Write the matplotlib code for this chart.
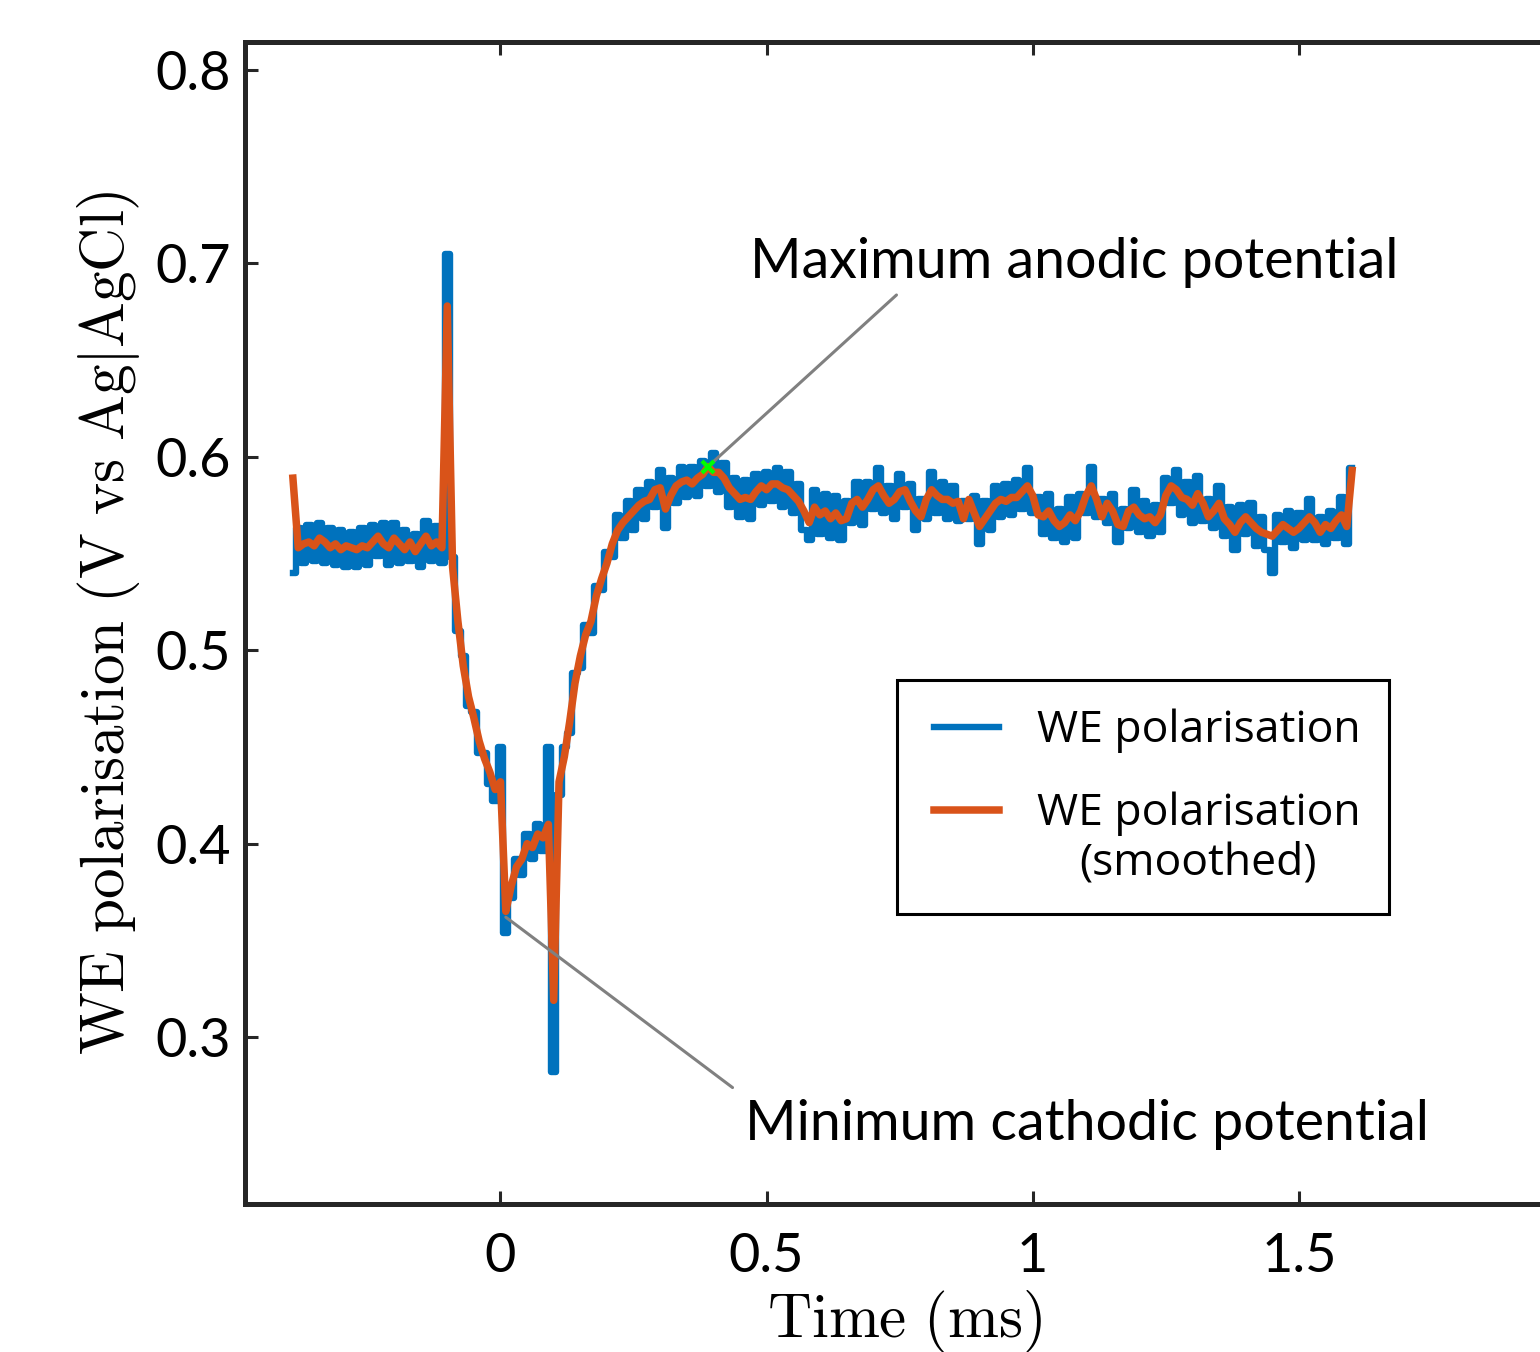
import numpy as np
import matplotlib
matplotlib.use("Agg")
import matplotlib.pyplot as plt
from matplotlib.legend_handler import HandlerLine2D

# sample times (ms), one sample every 0.01 ms
time_ms = np.round(np.linspace(-0.39, 1.60, 200), 2)

# raw WE polarisation (V)
we_raw = [
    0.540, 0.563, 0.545, 0.565, 0.546, 0.566, 0.545, 0.563, 0.544, 0.562,
    0.543, 0.561, 0.543, 0.563, 0.544, 0.565, 0.549, 0.566, 0.544, 0.566,
    0.545, 0.562, 0.546, 0.560, 0.543, 0.567, 0.546, 0.564, 0.545, 0.705,
    0.548, 0.510, 0.497, 0.471, 0.468, 0.447, 0.447, 0.431, 0.422, 0.450,
    0.354, 0.372, 0.392, 0.384, 0.405, 0.392, 0.410, 0.396, 0.450, 0.282,
    0.425, 0.450, 0.457, 0.488, 0.491, 0.513, 0.509, 0.533, 0.531, 0.551,
    0.548, 0.570, 0.558, 0.577, 0.562, 0.583, 0.568, 0.587, 0.574, 0.593,
    0.563, 0.589, 0.576, 0.595, 0.579, 0.595, 0.580, 0.598, 0.585, 0.602,
    0.582, 0.597, 0.574, 0.589, 0.569, 0.588, 0.568, 0.591, 0.575, 0.592,
    0.577, 0.594, 0.574, 0.592, 0.571, 0.586, 0.562, 0.557, 0.583, 0.560,
    0.581, 0.558, 0.580, 0.557, 0.577, 0.566, 0.587, 0.565, 0.587, 0.573,
    0.594, 0.571, 0.585, 0.568, 0.591, 0.574, 0.586, 0.562, 0.578, 0.568,
    0.592, 0.571, 0.587, 0.568, 0.585, 0.567, 0.577, 0.568, 0.580, 0.555,
    0.577, 0.562, 0.585, 0.569, 0.586, 0.570, 0.588, 0.573, 0.594, 0.571,
    0.579, 0.560, 0.581, 0.558, 0.573, 0.556, 0.579, 0.558, 0.581, 0.571,
    0.595, 0.569, 0.578, 0.566, 0.581, 0.556, 0.573, 0.563, 0.583, 0.561,
    0.577, 0.559, 0.575, 0.561, 0.589, 0.576, 0.593, 0.570, 0.587, 0.566,
    0.590, 0.567, 0.578, 0.563, 0.585, 0.559, 0.574, 0.552, 0.575, 0.560,
    0.576, 0.554, 0.569, 0.552, 0.540, 0.570, 0.556, 0.572, 0.553, 0.571,
    0.557, 0.578, 0.557, 0.569, 0.555, 0.572, 0.558, 0.579, 0.555, 0.594,
]

# smoothed WE polarisation (V)
we_smooth = [
    0.589, 0.553, 0.555, 0.556, 0.554, 0.558, 0.556, 0.553, 0.555, 0.552,
    0.554, 0.553, 0.552, 0.554, 0.553, 0.556, 0.559, 0.555, 0.553, 0.558,
    0.555, 0.552, 0.556, 0.551, 0.555, 0.559, 0.554, 0.556, 0.553, 0.678,
    0.543, 0.515, 0.492, 0.476, 0.465, 0.453, 0.444, 0.437, 0.428, 0.432,
    0.365, 0.378, 0.388, 0.392, 0.400, 0.398, 0.405, 0.403, 0.410, 0.319,
    0.432, 0.445, 0.463, 0.483, 0.497, 0.508, 0.515, 0.528, 0.537, 0.545,
    0.555, 0.562, 0.566, 0.569, 0.572, 0.575, 0.577, 0.578, 0.583, 0.584,
    0.573, 0.580, 0.585, 0.587, 0.588, 0.586, 0.589, 0.591, 0.595, 0.592,
    0.592, 0.589, 0.584, 0.581, 0.578, 0.579, 0.578, 0.582, 0.585, 0.583,
    0.586, 0.586, 0.584, 0.583, 0.580, 0.577, 0.572, 0.566, 0.574, 0.570,
    0.572, 0.568, 0.571, 0.567, 0.568, 0.576, 0.578, 0.574, 0.578, 0.583,
    0.585, 0.580, 0.576, 0.578, 0.582, 0.583, 0.577, 0.572, 0.569, 0.578,
    0.583, 0.580, 0.578, 0.578, 0.576, 0.577, 0.568, 0.578, 0.571, 0.564,
    0.568, 0.572, 0.576, 0.578, 0.577, 0.579, 0.579, 0.582, 0.585, 0.580,
    0.570, 0.569, 0.572, 0.567, 0.564, 0.566, 0.570, 0.567, 0.572, 0.580,
    0.585, 0.578, 0.569, 0.576, 0.572, 0.565, 0.564, 0.572, 0.574, 0.570,
    0.568, 0.569, 0.566, 0.570, 0.580, 0.585, 0.583, 0.579, 0.578, 0.575,
    0.581, 0.576, 0.569, 0.572, 0.576, 0.568, 0.565, 0.561, 0.566, 0.569,
    0.566, 0.563, 0.561, 0.560, 0.559, 0.562, 0.565, 0.563, 0.561, 0.563,
    0.566, 0.569, 0.566, 0.561, 0.565, 0.563, 0.567, 0.570, 0.564, 0.593,
]

x_ticks = [0, 0.5, 1, 1.5]
x_ticklabels = ["0", "0.5", "1", "1.5"]
y_ticks = [0.3, 0.4, 0.5, 0.6, 0.7, 0.8]

blue = "#0072BD"
orange = "#D95319"
dark = "#262626"

plt.rcParams["mathtext.fontset"] = "cm"


class RaisedLine(HandlerLine2D):
    # legend line lifted to sit level with the first line of a 2-line label
    def __init__(self, dy=0.0, **kw):
        super().__init__(**kw)
        self.dy = dy

    def create_artists(self, legend, orig_handle, xdescent, ydescent,
                       width, height, fontsize, trans):
        arts = super().create_artists(legend, orig_handle, xdescent,
                                      ydescent, width, height, fontsize,
                                      trans)
        for a in arts:
            a.set_ydata(np.asarray(a.get_ydata()) + self.dy * fontsize)
        return arts


fig = plt.figure(figsize=(15.4, 13.52), dpi=100)
# axes run past the right edge of the figure, as in the original crop
ax = fig.add_axes([245 / 1540, 1 - 1204 / 1352, 1320 / 1540, 1162 / 1352])

raw_line, = ax.plot(time_ms, we_raw, color=blue, lw=4.6,
                    drawstyle="steps-mid", label="WE polarisation")
smooth_line, = ax.plot(time_ms, we_smooth, color=orange, lw=5.4,
                       label="WE polarisation\n(smoothed)")

t = np.array(time_ms)
s = np.array(we_smooth)
# maximum anodic (after the pulse) and minimum cathodic points
mask_max = (t > 0.2) & (t < 1.59)
i_max = np.where(mask_max)[0][np.argmax(s[mask_max])]
mask_min = (t > 0.0) & (t < 0.09)
i_min = np.where(mask_min)[0][np.argmin(s[mask_min])]

ax.plot(t[i_max], s[i_max], marker="x", color="#00FF00", ms=9, mew=3,
        zorder=5)
ax.annotate("", xy=(t[i_max], s[i_max]), xytext=(0.744, 0.6837),
            arrowprops=dict(arrowstyle="-", color="#808080", lw=2.2,
                            shrinkA=0, shrinkB=0))
ax.annotate("", xy=(t[i_min], s[i_min] - 0.003), xytext=(0.436, 0.2739),
            arrowprops=dict(arrowstyle="-", color="#808080", lw=2.2,
                            shrinkA=0, shrinkB=0))
ax.text(0.468, 0.7003, "Maximum anodic potential", fontsize=40,
        family="Lato", ha="left", va="center")
ax.text(0.459, 0.2550, "Minimum cathodic potential", fontsize=40,
        family="Lato", ha="left", va="center")

ax.set_xlim(-0.48, 2.0)
ax.set_ylim(0.2137, 0.8145)
ax.set_xticks(x_ticks)
ax.set_xticklabels(x_ticklabels)
ax.set_yticks(y_ticks)
ax.set_yticklabels([f"{v:.1f}" for v in y_ticks])
for lab in ax.get_xticklabels() + ax.get_yticklabels():
    lab.set_family("Lato")
ax.tick_params(direction="in", length=9.5, width=2.2, color=dark,
               labelsize=39, top=True, right=True)
ax.tick_params(axis="x", pad=20)
ax.tick_params(axis="y", pad=10)
for sp in ax.spines.values():
    sp.set_linewidth(3.6)
    sp.set_color(dark)

ax.set_xlabel(r"$\mathrm{Time\ (ms)}$", fontsize=44, labelpad=5)
ax.set_ylabel(r"$\mathrm{WE\ polarisation\ (V\ vs\ Ag|AgCl)}$", fontsize=44,
              labelpad=10)

leg = ax.legend(handler_map={raw_line: HandlerLine2D(xpad=0.17),
                             smooth_line: RaisedLine(dy=0.66, xpad=0.17)},
                loc="upper left", bbox_to_anchor=(0.494, 0.451),
                borderaxespad=0, fancybox=False, edgecolor="black",
                framealpha=1, prop={"family": "Open Sans", "size": 32},
                handlelength=1.65, handletextpad=0.84, borderpad=0.65,
                labelspacing=0.85)
leg.get_frame().set_linewidth(2.2)
for txt in leg.get_texts():
    txt.set_multialignment("center")
    txt.set_linespacing(1.15)

fig.savefig("out.png", dpi=100)
